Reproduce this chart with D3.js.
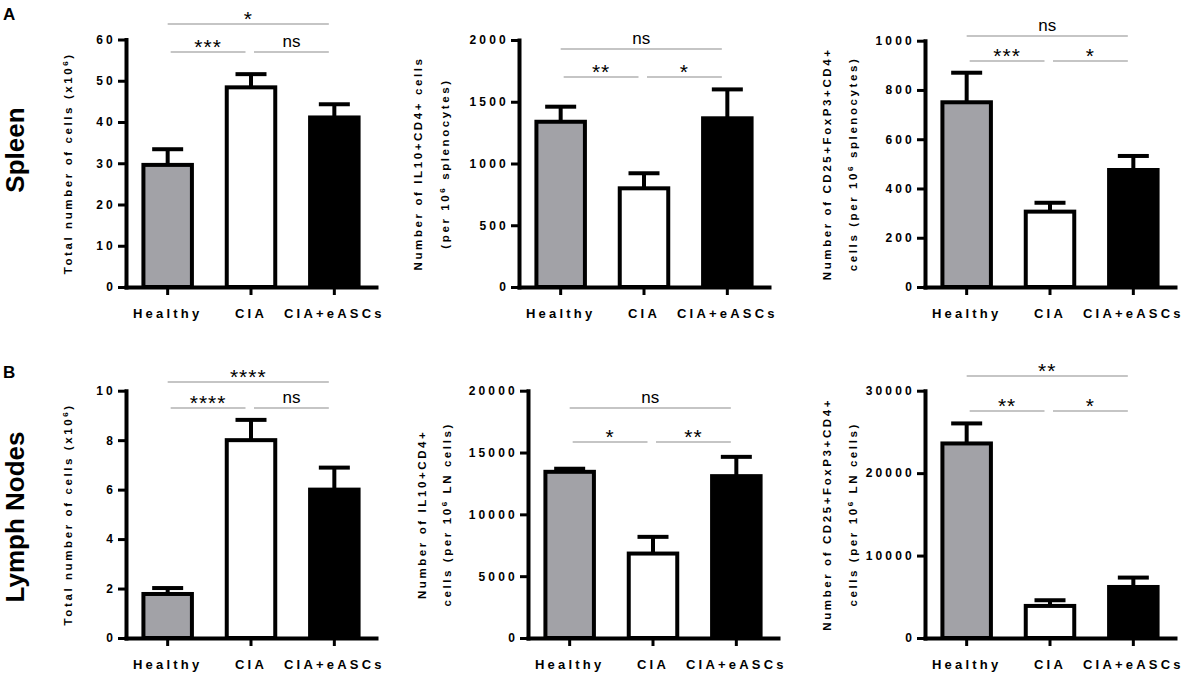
<!DOCTYPE html>
<html>
<head>
<meta charset="utf-8">
<script src="https://cdn.jsdelivr.net/npm/d3@7"></script>
<style>
    body { margin: 0; background: #fff; }
    text { font-family: "Liberation Sans", Arial, Helvetica, sans-serif; }
</style>
</head>
<body>
<div id="chart"></div>
<script>
// groups on the x axis
var groups = ["Healthy", "CIA", "CIA+eASCs"];
var groupFill = ["#a2a2a7", "#ffffff", "#000000"];

// spleen: total cells (x10^6)
var spleenTotalMean = [29.6, 48.4, 41.1];
var spleenTotalSem = [3.8, 3.2, 3.2];
var spleenTotalTicks = [0, 10, 20, 30, 40, 50, 60];
var spleenTotalSig = [[0, 2, "*"], [0, 1, "***"], [1, 2, "ns"]];

// spleen: IL10+CD4+ cells per 10^6 splenocytes
var spleenIl10Mean = [1338, 799, 1366];
var spleenIl10Sem = [122, 122, 234];
var spleenIl10Ticks = [0, 500, 1000, 1500, 2000];
var spleenIl10Sig = [[0, 2, "ns"], [0, 1, "**"], [1, 2, "*"]];

// spleen: CD25+FoxP3+CD4+ cells per 10^6 splenocytes
var spleenTregMean = [750, 306, 475];
var spleenTregSem = [120, 36, 57];
var spleenTregTicks = [0, 200, 400, 600, 800, 1000];
var spleenTregSig = [[0, 2, "ns"], [0, 1, "***"], [1, 2, "*"]];

// lymph nodes: total cells (x10^6)
var lnTotalMean = [1.78, 8.0, 6.0];
var lnTotalSem = [0.24, 0.82, 0.89];
var lnTotalTicks = [0, 2, 4, 6, 8, 10];
var lnTotalSig = [[0, 2, "****"], [0, 1, "****"], [1, 2, "ns"]];

// lymph nodes: IL10+CD4+ cells per 10^6 LN cells
var lnIl10Mean = [13440, 6830, 13090];
var lnIl10Sem = [250, 1350, 1560];
var lnIl10Ticks = [0, 5000, 10000, 15000, 20000];
var lnIl10Sig = [[0, 2, "ns"], [0, 1, "*"], [1, 2, "**"]];

// lymph nodes: CD25+FoxP3+CD4+ cells per 10^6 LN cells
var lnTregMean = [23600, 3890, 6190];
var lnTregSem = [2430, 690, 1140];
var lnTregTicks = [0, 10000, 20000, 30000];
var lnTregSig = [[0, 2, "**"], [0, 1, "**"], [1, 2, "*"]];

// axis titles: [before superscript, superscript, after]
var totalTitle = [["Total number of cells (x10", "6", ")"]];
var spleenIl10Title = [["Number of IL10+CD4+ cells", "", ""], ["(per 10", "6", " splenocytes)"]];
var spleenTregTitle = [["Number of CD25+FoxP3+CD4+", "", ""], ["cells (per 10", "6", " splenocytes)"]];
var lnIl10Title = [["Number of IL10+CD4+", "", ""], ["cells (per 10", "6", " LN cells)"]];
var lnTregTitle = [["Number of CD25+FoxP3+CD4+", "", ""], ["cells (per 10", "6", " LN cells)"]];

var svg = d3.select("#chart").append("svg")
    .attr("width", 1184).attr("height", 677)
    .style("background", "#fff");

/**
 * draw one bar panel with error bars, axes and significance brackets
 * @param cfg
 */
var drawPanel = function(cfg){
    var g = svg.append("g");

    var x = d3.scaleBand().domain(groups)
        .range([cfg.axisX, cfg.axisX + 250])
        .paddingInner(0.37).paddingOuter(0.185);
    var y = d3.scaleLinear()
        .domain([0, cfg.ticks[cfg.ticks.length - 1]])
        .range([cfg.yBase, cfg.yTop]);

    var data = groups.map(function(name, i){
        return {name: name, mean: cfg.mean[i], sem: cfg.sem[i], fill: groupFill[i]};
    });
    var cx = function(name){ return x(name) + x.bandwidth() / 2; };

    // error bars (upper only)
    g.selectAll(".err").data(data).enter().append("line")
        .attr("x1", function(d){ return cx(d.name); })
        .attr("x2", function(d){ return cx(d.name); })
        .attr("y1", function(d){ return y(d.mean); })
        .attr("y2", function(d){ return y(d.mean + d.sem); })
        .attr("stroke", "#000").attr("stroke-width", 4);
    g.selectAll(".cap").data(data).enter().append("line")
        .attr("x1", function(d){ return cx(d.name) - 15.5; })
        .attr("x2", function(d){ return cx(d.name) + 15.5; })
        .attr("y1", function(d){ return y(d.mean + d.sem); })
        .attr("y2", function(d){ return y(d.mean + d.sem); })
        .attr("stroke", "#000").attr("stroke-width", 4);

    // bars
    g.selectAll("rect").data(data).enter().append("rect")
        .attr("x", function(d){ return x(d.name) + 2; })
        .attr("y", function(d){ return y(d.mean); })
        .attr("width", x.bandwidth() - 4)
        .attr("height", function(d){ return y(0) - y(d.mean); })
        .style("fill", function(d){ return d.fill; })
        .style("stroke", "#000").style("stroke-width", 4);

    // y axis
    var yAxis = g.append("g").attr("transform", "translate(" + cfg.axisX + ",0)")
        .call(d3.axisLeft(y).tickValues(cfg.ticks).tickFormat(d3.format("d"))
            .tickSize(8).tickSizeOuter(0).tickPadding(2));
    yAxis.select(".domain").attr("stroke-width", 4).attr("stroke-linecap", "square");
    yAxis.selectAll(".tick line").attr("stroke-width", 3);
    yAxis.selectAll(".tick text")
        .style("font-size", "12px").style("font-weight", "bold")
        .style("letter-spacing", "3.2px").attr("fill", "#000");

    // x axis
    var xAxis = g.append("g").attr("transform", "translate(0," + cfg.yBase + ")")
        .call(d3.axisBottom(x).tickSize(8).tickSizeOuter(0).tickPadding(14));
    xAxis.select(".domain").attr("stroke-width", 4).attr("stroke-linecap", "square");
    xAxis.selectAll(".tick line").attr("stroke-width", 3);
    xAxis.selectAll(".tick text")
        .style("font-size", "13px").style("font-weight", "bold")
        .style("letter-spacing", "3.2px").attr("fill", "#000");

    // y axis title
    var midY = (cfg.yBase + cfg.yTop) / 2;
    cfg.title.forEach(function(line, i){
        var t = g.append("text")
            .attr("transform", "translate(" + cfg.titleX[i] + "," + midY + ") rotate(-90)")
            .attr("text-anchor", "middle").attr("dy", "0.35em")
            .style("font-size", "11.5px").style("font-weight", "bold")
            .style("letter-spacing", "2.6px");
        t.append("tspan").text(line[0]);
        if (line[1] !== "") {
            t.append("tspan").attr("dy", -4.5).style("font-size", "8px").text(line[1]);
            t.append("tspan").attr("dy", 4.5).text(line[2]);
        }
    });

    // significance brackets
    cfg.sig.forEach(function(s){
        var wide = (s[0] === 0 && s[1] === 2);
        var ly = wide ? cfg.upperY : cfg.lowerY;
        var x1 = cx(groups[s[0]]) + (wide ? 0 : 3);
        var x2 = cx(groups[s[1]]) - 5.5;
        g.append("line")
            .attr("x1", x1).attr("x2", x2).attr("y1", ly).attr("y2", ly)
            .attr("stroke", "#8c8c8c").attr("stroke-width", 1.2);
        var t = g.append("text")
            .attr("x", (x1 + x2) / 2).attr("text-anchor", "middle")
            .text(s[2]);
        if (s[2] === "ns") {
            t.attr("y", ly - 5).style("font-size", "17px");
        } else {
            t.attr("y", ly + 2).style("font-size", "21px").style("letter-spacing", "1px");
        }
    });
};

var panels = [
    {mean: spleenTotalMean, sem: spleenTotalSem, ticks: spleenTotalTicks, sig: spleenTotalSig, title: totalTitle,
        axisX: 126, yTop: 39.5, yBase: 287, titleX: [68], upperY: 24, lowerY: 52},
    {mean: spleenIl10Mean, sem: spleenIl10Sem, ticks: spleenIl10Ticks, sig: spleenIl10Sig, title: spleenIl10Title,
        axisX: 519, yTop: 40, yBase: 287, titleX: [418, 445], upperY: 49, lowerY: 77},
    {mean: spleenTregMean, sem: spleenTregSem, ticks: spleenTregTicks, sig: spleenTregSig, title: spleenTregTitle,
        axisX: 925, yTop: 40.7, yBase: 287, titleX: [827, 853], upperY: 36, lowerY: 61},
    {mean: lnTotalMean, sem: lnTotalSem, ticks: lnTotalTicks, sig: lnTotalSig, title: totalTitle,
        axisX: 126, yTop: 390.7, yBase: 638, titleX: [68], upperY: 382, lowerY: 408},
    {mean: lnIl10Mean, sem: lnIl10Sem, ticks: lnIl10Ticks, sig: lnIl10Sig, title: lnIl10Title,
        axisX: 528, yTop: 390.7, yBase: 638, titleX: [422, 447], upperY: 408, lowerY: 442},
    {mean: lnTregMean, sem: lnTregSem, ticks: lnTregTicks, sig: lnTregSig, title: lnTregTitle,
        axisX: 925, yTop: 390.7, yBase: 638, titleX: [827, 853], upperY: 376, lowerY: 411}
];
panels.forEach(drawPanel);

// panel letters and row labels
svg.append("text").attr("x", 3).attr("y", 20)
    .style("font-size", "17px").style("font-weight", "bold").text("A");
svg.append("text").attr("x", 3).attr("y", 378)
    .style("font-size", "17px").style("font-weight", "bold").text("B");
svg.append("text").attr("transform", "translate(24,150) rotate(-90)")
    .attr("text-anchor", "middle")
    .style("font-size", "26px").style("font-weight", "bold").text("Spleen");
svg.append("text").attr("transform", "translate(24,517) rotate(-90)")
    .attr("text-anchor", "middle")
    .style("font-size", "26px").style("font-weight", "bold").text("Lymph Nodes");
</script>
</body>
</html>
